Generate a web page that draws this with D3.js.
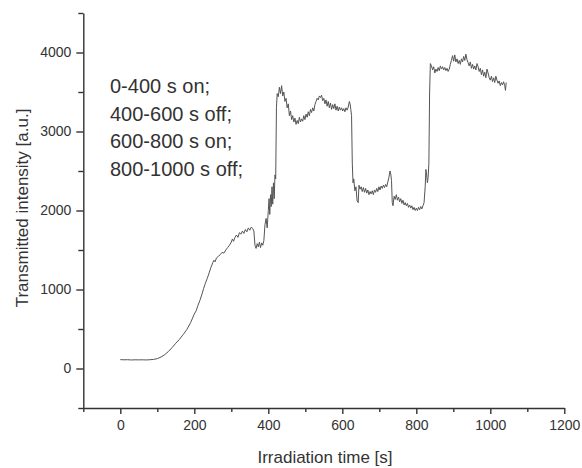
<!DOCTYPE html>
<html lang="en">
	<head>
		<meta charset="utf-8">
		<title>Transmitted intensity vs irradiation time</title>
		<script type="text/javascript" src="https://cdn.jsdelivr.net/npm/d3@7"></script>
		<style type="text/css">
			body { margin: 0; background: #fff; }
			text { font-family: "Liberation Sans", Arial, sans-serif; fill: #333; }
		</style>
	</head>
	<body>
		<script type="text/javascript">

			//Width and height
			var w = 582;
			var h = 468;

			//Data: time [s] and intensity [a.u.]
			var timeS = [
				0,10,20,30,40,50,60,70,80,90,100,110,120,130,140,150,160,170,180,190,
				200,205,210,215,220,225,230,235,240,245,250,253,256,260,265,270,275,280,285,290,
				295,300,303,306,310,314,318,322,326,330,334,338,342,346,350,354,358,361,364,367,
				370,373,376,379,382,385,388,391,394,397,400,402,404,406,408,410,412,414,416,418,
				420,422,424,427,430,433,436,439,442,445,448,451,454,457,460,463,466,469,472,475,
				478,481,484,487,490,493,496,499,502,505,508,511,514,517,520,523,526,529,532,535,
				538,541,544,547,550,553,556,559,562,565,568,571,574,577,580,583,586,589,592,595,
				598,601,604,607,610,613,616,619,621,623,625,627,629,631,634,637,640,643,645,648,
				651,654,657,660,663,666,669,672,675,678,681,684,687,690,693,696,699,702,705,708,
				711,714,717,720,723,726,729,731,733,735,737,740,743,746,749,752,755,758,761,764,
				767,770,773,776,779,782,785,788,791,794,797,800,803,806,809,812,815,818,821,824,
				826,828,830,832,834,836,838,841,844,847,850,853,856,859,862,865,868,871,874,877,
				880,883,886,889,892,895,898,901,904,907,910,913,916,919,922,925,928,931,934,937,
				940,943,946,949,952,955,958,961,964,967,970,973,976,979,982,985,988,991,994,997,
				1000,1003,1006,1009,1012,1015,1018,1021,1024,1027,1030,1033,1036,1039,1041,1043
			];
			var intensity = [
				112,110,111,108,110,109,110,108,111,115,125,145,175,215,265,320,370,430,495,580,
				690,730,800,860,930,1010,1080,1140,1210,1280,1340,1370,1350,1400,1420,1440,1470,1460,1500,1530,
				1560,1600,1640,1610,1660,1690,1660,1720,1700,1740,1710,1760,1730,1780,1750,1790,1770,1740,1560,1520,
				1580,1540,1600,1530,1590,1560,1620,1820,1900,1780,2000,2150,1950,2200,2050,2300,2080,2350,2150,2450,
				2400,3300,3480,3440,3560,3480,3580,3450,3500,3380,3420,3300,3350,3200,3260,3150,3200,3120,3170,3090,
				3140,3100,3180,3120,3160,3130,3200,3150,3220,3180,3250,3200,3280,3240,3300,3260,3340,3380,3420,3400,
				3450,3430,3460,3390,3420,3350,3400,3320,3380,3300,3360,3280,3340,3290,3350,3270,3320,3260,3310,3270,
				3300,3260,3290,3250,3300,3270,3310,3380,3350,3280,3200,2600,2350,2400,2250,2300,2120,2100,2320,2270,
				2300,2240,2290,2230,2280,2220,2260,2200,2240,2210,2250,2200,2260,2230,2280,2240,2300,2260,2310,2280,
				2320,2290,2330,2300,2360,2420,2500,2460,2380,2100,2060,2180,2140,2200,2130,2170,2110,2150,2090,2130,
				2070,2100,2060,2090,2040,2070,2030,2060,2010,2040,2000,2030,2000,2040,2010,2050,2020,2060,2100,2300,
				2520,2450,2350,2420,2600,3500,3860,3830,3780,3820,3740,3790,3760,3810,3770,3830,3790,3820,3780,3810,
				3770,3800,3760,3790,3850,3900,3960,3890,3970,3880,3920,3860,3900,3850,3920,3880,3950,3900,3980,3910,
				3870,3830,3880,3800,3850,3790,3830,3780,3860,3820,3760,3800,3720,3780,3700,3750,3680,3790,3740,3680,
				3650,3700,3630,3680,3620,3700,3650,3610,3640,3580,3620,3590,3630,3580,3520,3620
			];

			var xMajor = [0, 200, 400, 600, 800, 1000, 1200];
			var xMinor = [-100, 100, 300, 500, 700, 900, 1100];
			var yMajor = [0, 1000, 2000, 3000, 4000];
			var yMinor = [-500, 500, 1500, 2500, 3500, 4500];

			var notes = ["0-400 s on;", "400-600 s off;", "600-800 s on;", "800-1000 s off;"];

			var xScale = d3.scaleLinear()
			.domain([-100, 1200])
			.range([83.3, 564.3]);

			var yScale = d3.scaleLinear()
			.domain([-500, 4500])
			.range([408, 13]);

			//Create SVG element
			var svg = d3.select("body")
						.append("svg")
						.attr("width", w)
						.attr("height", h);

			//Axes
			var xAxis = svg.append("g")
			.attr("transform", "translate(0," + yScale(-500) + ")")
			.call(d3.axisBottom(xScale).tickValues(xMajor).tickFormat(d3.format("d"))
				.tickSize(6).tickPadding(6).tickSizeOuter(0));

			xAxis.append("g")
			.call(d3.axisBottom(xScale).tickValues(xMinor).tickSize(4).tickFormat("").tickSizeOuter(0))
			.select(".domain").remove();

			var yAxis = svg.append("g")
			.attr("transform", "translate(" + xScale(-100) + ",0)")
			.call(d3.axisLeft(yScale).tickValues(yMajor).tickFormat(d3.format("d"))
				.tickSize(7).tickPadding(5).tickSizeOuter(0));

			yAxis.append("g")
			.call(d3.axisLeft(yScale).tickValues(yMinor).tickSize(5).tickFormat("").tickSizeOuter(0))
			.select(".domain").remove();

			svg.selectAll(".domain, .tick line")
			.attr("stroke", "#333")
			.attr("stroke-width", 1.4);

			svg.selectAll(".tick text")
			.attr("font-family", "Liberation Sans, Arial, sans-serif")
			.attr("font-size", 14)
			.attr("fill", "#444");

			//Data line
			var line = d3.line()
			.x(function(d, i){ return xScale(timeS[i]); })
			.y(function(d){ return yScale(d); });

			svg.append("path")
			.datum(intensity)
			.attr("d", line)
			.attr("fill", "none")
			.attr("stroke", "#555")
			.attr("stroke-width", 1)
			.attr("stroke-linejoin", "round");

			//Annotation
			svg.selectAll("text.note")
			.data(notes)
			.enter()
			.append("text")
			.attr("class", "note")
			.text(function(d){ return d; })
			.attr("x", 110)
			.attr("y", function(d, i){ return 93 + i * 27.7; })
			.attr("font-size", 20)
			.attr("fill", "#222");

			//Axis titles
			svg.append("text")
			.text("Irradiation time [s]")
			.attr("x", 325)
			.attr("y", 463)
			.attr("text-anchor", "middle")
			.attr("font-size", 17);

			svg.append("text")
			.text("Transmitted intensity [a.u.]")
			.attr("transform", "translate(28,208) rotate(-90)")
			.attr("text-anchor", "middle")
			.attr("font-size", 17);

		</script>
	</body>
</html>
